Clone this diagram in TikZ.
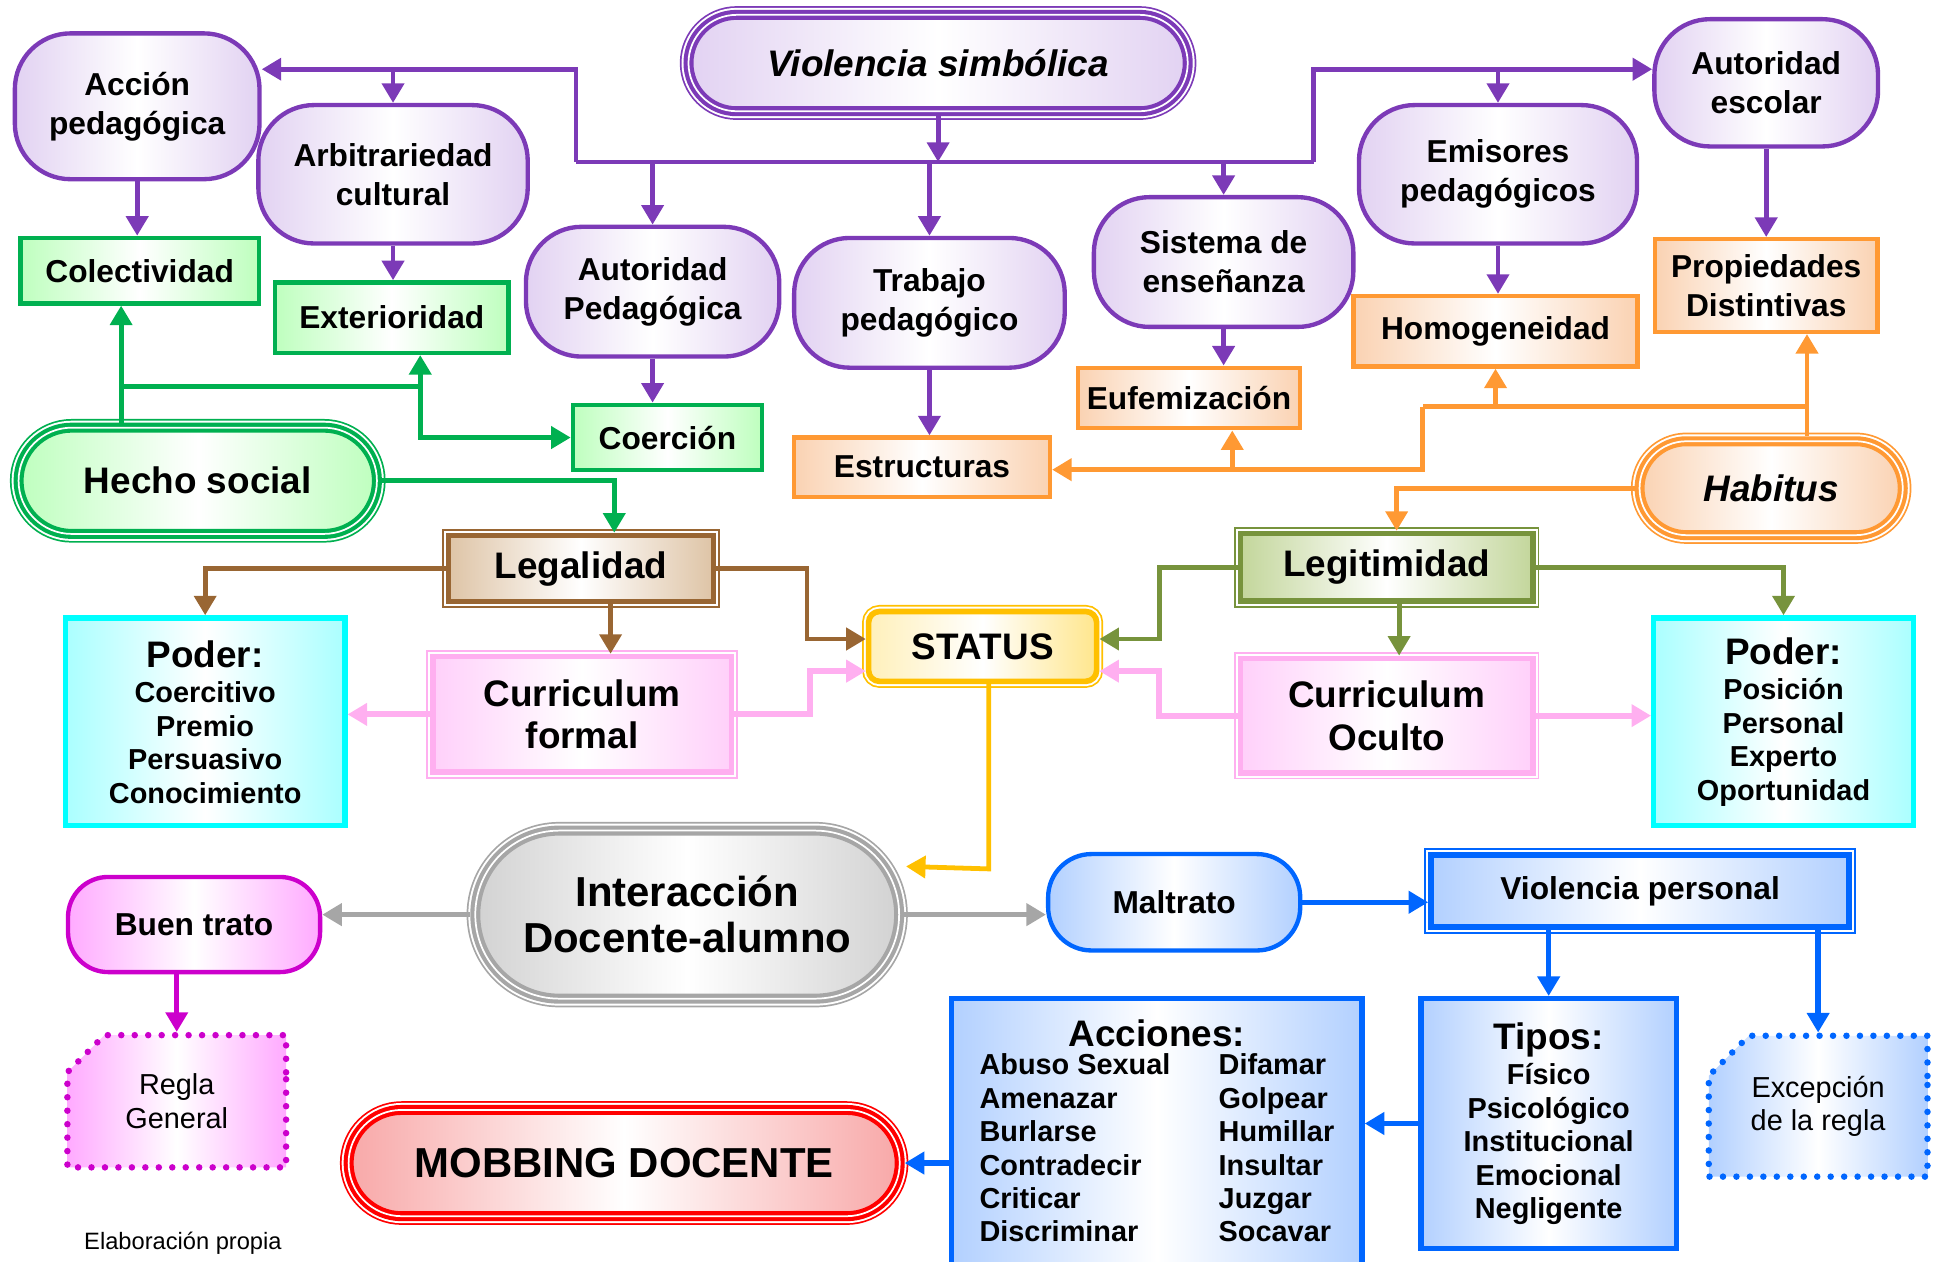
\documentclass[tikz,border=0pt]{standalone}
\usepackage{fontspec}
\setmainfont{Liberation Sans}
\usetikzlibrary{arrows.meta,shapes.misc}

\definecolor{vpur}{RGB}{124,58,183}
\definecolor{lpur}{RGB}{226,210,242}
\definecolor{vgreen}{RGB}{0,176,80}
\definecolor{lgreen}{RGB}{190,255,190}
\definecolor{vorange}{RGB}{255,153,51}
\definecolor{lorange}{RGB}{250,210,178}
\definecolor{vbrown}{RGB}{153,102,51}
\definecolor{lbrown}{RGB}{222,196,166}
\definecolor{volive}{RGB}{119,147,60}
\definecolor{lolive}{RGB}{195,214,155}
\definecolor{vyellow}{RGB}{255,192,0}
\definecolor{lyellow}{RGB}{255,230,140}
\definecolor{vcyan}{RGB}{0,255,255}
\definecolor{lcyan}{RGB}{170,255,255}
\definecolor{vpink}{RGB}{255,175,240}
\definecolor{lpink}{RGB}{255,208,250}
\definecolor{vgray}{RGB}{166,166,166}
\definecolor{lgray}{RGB}{210,210,210}
\definecolor{vmag}{RGB}{204,0,204}
\definecolor{lmag}{RGB}{255,170,255}
\definecolor{vblue}{RGB}{0,102,255}
\definecolor{lblue}{RGB}{178,208,255}
\definecolor{vred}{RGB}{255,0,0}
\definecolor{lred}{RGB}{248,168,168}

\newcommand{\fa}{\fontsize{14.6}{18}\selectfont}
\newcommand{\fb}{\fontsize{17}{19.5}\selectfont}
\newcommand{\fc}{\fontsize{13.3}{15.4}\selectfont}
\newcommand{\fd}{\fontsize{19.3}{21}\selectfont}

\tikzset{
  txt/.style={font=\bfseries\fa, align=center, inner sep=1pt},
  grad/.style={left color=#1, right color=#1, middle color=white},
  oval/.style={txt, draw=vpur, line width=2pt, rounded corners=0.9cm, grad=lpur},
  box/.style={txt, draw=#1, line width=2pt},
  list/.style={box=#1, line width=2.5pt, font=\bfseries\fc},
  ring/.style={preaction={draw=#1, line width=8pt}, preaction={draw=white, line width=6.4pt},
    draw=#1, line width=4.6pt, postaction={draw=white, line width=0.8pt}},
  dbl/.style={preaction={draw=#1, line width=6pt}, preaction={draw=white, line width=4.4pt},
    draw=#1, line width=2.6pt},
  dots/.style={draw=#1, line width=3pt, dash pattern=on 0pt off 6.2pt, line cap=round,
    shape=chamfered rectangle, chamfered rectangle corners=north west,
    chamfered rectangle xsep=1.1cm, font=\fc, align=center, inner sep=1pt},
  link/.style={draw=#1, line width=2.2pt},
  arr/.style={link=#1, -{Triangle[width=10pt,length=9pt]}},
}

\begin{document}
\begin{tikzpicture}[x=0.02cm,y=-0.02cm]
\useasboundingbox (0,0) rectangle (1568,1021);

\node[txt, ring=vpur, grad=lpur, rounded corners=0.78cm, minimum width=8.08cm, minimum height=1.56cm, font=\bfseries\itshape\fb] (vs) at (759,51) {Violencia simbólica};
\node[oval, minimum width=3.96cm, minimum height=2.36cm] (accion) at (111,86) {Acción\\pedagógica};
\node[oval, minimum width=4.36cm, minimum height=2.24cm] (arbit) at (318,141) {Arbitrariedad\\cultural};
\node[oval, minimum width=3.62cm, minimum height=2.06cm] (autesc) at (1429,67) {Autoridad\\escolar};
\node[oval, minimum width=4.5cm, minimum height=2.24cm] (emis) at (1212,141) {Emisores\\pedagógicos};
\node[oval, minimum width=4.1cm, minimum height=2.1cm] (autped) at (528,236) {Autoridad\\Pedagógica};
\node[oval, minimum width=4.38cm, minimum height=2.1cm] (trab) at (752,245) {Trabajo\\pedagógico};
\node[oval, minimum width=4.2cm, minimum height=2.1cm] (sist) at (990,212) {Sistema de\\enseñanza};

\node[box=vgreen, grad=lgreen, minimum width=3.86cm, minimum height=1.06cm] (colect) at (113,219) {Colectividad};
\node[box=vgreen, grad=lgreen, minimum width=3.78cm, minimum height=1.14cm] (exter) at (317,257) {Exterioridad};
\node[box=vgreen, grad=lgreen, minimum width=3.06cm, minimum height=1.06cm] (coer) at (540,354) {Coerción};

\node[box=vorange, grad=lorange, minimum width=4.6cm, minimum height=1.14cm] (homog) at (1210,268) {Homogeneidad};
\node[box=vorange, grad=lorange, minimum width=3.6cm, minimum height=1.5cm] (prop) at (1429,231) {Propiedades\\Distintivas};
\node[box=vorange, grad=lorange, minimum width=3.6cm, minimum height=0.98cm] (eufem) at (962,322) {Eufemización};
\node[box=vorange, grad=lorange, minimum width=4.14cm, minimum height=0.96cm] (estr) at (746,378) {Estructuras};

\node[txt, ring=vgreen, grad=lgreen, rounded corners=0.86cm, minimum width=5.8cm, minimum height=1.72cm, font=\bfseries\fb] (hecho) at (160,389) {Hecho social};
\node[txt, ring=vorange, grad=lorange, rounded corners=0.76cm, minimum width=4.26cm, minimum height=1.52cm, font=\bfseries\itshape\fb] (habit) at (1433,395) {Habitus};

\node[txt, dbl=vbrown, grad=lbrown, minimum width=4.29cm, minimum height=1.07cm, font=\bfseries\fb] (legal) at (470,460) {Legalidad};
\node[txt, dbl=volive, grad=lolive, minimum width=4.73cm, minimum height=1.09cm, font=\bfseries\fb] (legit) at (1122,459) {Legitimidad};
\node[txt, dbl=vyellow, left color=lyellow!60, right color=lyellow, middle color=white, rounded corners=5pt, minimum width=3.69cm, minimum height=1.13cm, font=\bfseries\fb] (status) at (795,523) {STATUS};

\node[list=vcyan, grad=lcyan, minimum width=4.52cm, minimum height=3.36cm] (poderL) at (166,584) {{\fb Poder:}\\[1pt]Coercitivo\\Premio\\Persuasivo\\Conocimiento};
\node[txt, dbl=vpink, grad=lpink, minimum width=4.83cm, minimum height=1.87cm, font=\bfseries\fb] (currF) at (471,578) {Curriculum\\formal};
\node[txt, dbl=vpink, grad=lpink, minimum width=4.73cm, minimum height=1.85cm, font=\bfseries\fb] (currO) at (1122,579) {Curriculum\\Oculto};
\node[list=vcyan, grad=lcyan, minimum width=4.2cm, minimum height=3.36cm] (poderR) at (1443,584) {{\fb Poder:}\\[1pt]Posición\\Personal\\Experto\\Oportunidad};

\node[txt, ring=vgray, grad=lgray, rounded corners=1.36cm, minimum width=6.86cm, minimum height=2.72cm, font=\bfseries\fd] (inter) at (556,740) {Interacción\\Docente-alumno};
\node[box=vmag, grad=lmag, rounded corners=0.65cm, minimum width=4.08cm, minimum height=1.54cm] (buen) at (157,748) {Buen trato};
\node[box=vblue, grad=lblue, rounded corners=0.7cm, minimum width=4.08cm, minimum height=1.56cm] (malt) at (950,730) {Maltrato};
\node[txt, dbl=vblue, grad=lblue, minimum width=6.77cm, minimum height=1.17cm] (vp) at (1327,721) {Violencia personal};

\node[dots=vmag, grad=lmag, minimum width=3.54cm, minimum height=2.14cm] (regla) at (143,891) {Regla\\General};
\node[dots=vblue, grad=lblue, minimum width=3.54cm, minimum height=2.28cm] (exc) at (1471,895) {Excepción\\de la regla};

\node[list=vblue, grad=lblue, minimum width=6.64cm, minimum height=4.44cm] (acc) at (936,919) {{\fb Acciones:}\\[1pt]
  \begin{tabular}{@{}l@{\hspace{0.78cm}}l@{}}
  Abuso Sexual & Difamar\\ Amenazar & Golpear\\ Burlarse & Humillar\\
  Contradecir & Insultar\\ Criticar & Juzgar\\ Discriminar & Socavar
  \end{tabular}};
\node[list=vblue, grad=lblue, minimum width=4.14cm, minimum height=4.04cm] (tipos) at (1253,909) {{\fb Tipos:}\\[1pt]Físico\\Psicológico\\Institucional\\Emocional\\Negligente};
\node[txt, ring=vred, grad=lred, rounded corners=0.86cm, minimum width=8.92cm, minimum height=1.72cm, font=\bfseries\fd] (mob) at (505,941) {MOBBING DOCENTE};
\node[font=\fontsize{10.9}{13}\selectfont] (src) at (148,1006) {Elaboración propia};

\coordinate (bl) at (466,131);
\coordinate (br) at (1063,131);
\coordinate (tl) at (466,56);
\coordinate (tr) at (1063,56);
\draw[link=vpur] (bl) -- (br);
\draw[arr=vpur] (vs.south) -- (vs.south |- bl);
\draw[arr=vpur] (bl) -- (tl) -- (accion.east |- tl);
\draw[arr=vpur] (arbit |- tl) -- (arbit.north);
\draw[arr=vpur] (br) -- (tr) -- (autesc.west |- tr);
\draw[arr=vpur] (emis |- tr) -- (emis.north);
\draw[arr=vpur] (autped |- bl) -- (autped.north);
\draw[arr=vpur] (trab |- bl) -- (trab.north);
\draw[arr=vpur] (sist |- bl) -- (sist.north);
\draw[arr=vpur] (accion.south) -- (accion.south |- colect.north);
\draw[arr=vpur] (arbit.south) -- (arbit.south |- exter.north);
\draw[arr=vpur] (autped.south) -- (autped.south |- coer.north);
\draw[arr=vpur] (trab.south) -- (trab.south |- estr.north);
\draw[arr=vpur] (sist.south) -- (sist.south |- eufem.north);
\draw[arr=vpur] (emis.south) -- (emis.south |- homog.north);
\draw[arr=vpur] (autesc.south) -- (autesc.south |- prop.north);

\coordinate (g1) at (98,313);
\coordinate (g2) at (340,313);
\draw[arr=vgreen] (hecho.north -| g1) -- (colect.south -| g1);
\draw[link=vgreen] (g1) -- (g2);
\draw[arr=vgreen] (g2) -- (exter.south -| g2);
\draw[arr=vgreen] (g2) |- (coer.west);
\draw[arr=vgreen] (hecho.east) -| ([xshift=0.54cm]legal.north);

\coordinate (o1) at (1462,329);
\coordinate (o2) at (1151,329);
\coordinate (o3) at (1151,380);
\coordinate (o4) at (997,380);
\draw[arr=vorange] (habit.north -| o1) -- (prop.south -| o1);
\draw[link=vorange] (o1) -- (o2);
\draw[arr=vorange] (homog.south |- o2) -- (homog.south);
\draw[arr=vorange] (o2) -- (o3) -- (estr.east |- o3);
\draw[arr=vorange] (o4) -- (eufem.south -| o4);
\draw[arr=vorange] (habit.west) -| ([xshift=0.16cm]legit.north);

\coordinate (b1) at (653,517);
\coordinate (l1) at (938,517);
\draw[arr=vbrown] (legal.west) -| (poderL.north);
\draw[arr=vbrown] ([xshift=0.48cm]legal.south) -- ([xshift=0.48cm]legal.south |- currF.north);
\draw[arr=vbrown] (legal.east) -| (b1) -- (status.west |- b1);
\draw[arr=volive] (legit.west) -| (l1) -- (status.east |- l1);
\draw[arr=volive] ([xshift=0.2cm]legit.south) -- ([xshift=0.2cm]legit.south |- currO.north);
\draw[arr=volive] (legit.east) -| (poderR.north);

\coordinate (p1) at (655,543);
\coordinate (p2) at (938,543);
\draw[arr=vpink, line width=2.8pt] (currF.west) -- (poderL.east |- currF.west);
\draw[arr=vpink, line width=2.8pt] (currF.east) -| (p1) -- (status.west |- p1);
\draw[arr=vpink, line width=2.8pt] (currO.west) -| (p2) -- (status.east |- p2);
\draw[arr=vpink, line width=2.8pt] (currO.east) -- (poderR.west |- currO.east);

\coordinate (y1) at (800,703);
\coordinate (y2) at (733,701);
\draw[arr=vyellow] (status.south -| y1) -- (y1) -- (y2);

\draw[arr=vgray, line width=2.5pt] (inter.west) -- (buen.east |- inter.west);
\draw[arr=vgray, line width=2.5pt] (inter.east) -- (malt.west |- inter.east);
\draw[arr=vmag] (buen.south -| regla) -- (regla.north);

\draw[arr=vblue, line width=2.5pt] (malt.east) -- (vp.west |- malt.east);
\draw[arr=vblue, line width=2.5pt] (vp.south -| tipos) -- (tipos.north);
\draw[arr=vblue, line width=2.5pt] (vp.south -| exc) -- (exc.north);
\draw[arr=vblue, line width=2.5pt] (tipos.west) -- (acc.east |- tipos.west);
\draw[arr=vblue, line width=2.5pt] (acc.west |- mob) -- (mob.east);
\end{tikzpicture}
\end{document}
